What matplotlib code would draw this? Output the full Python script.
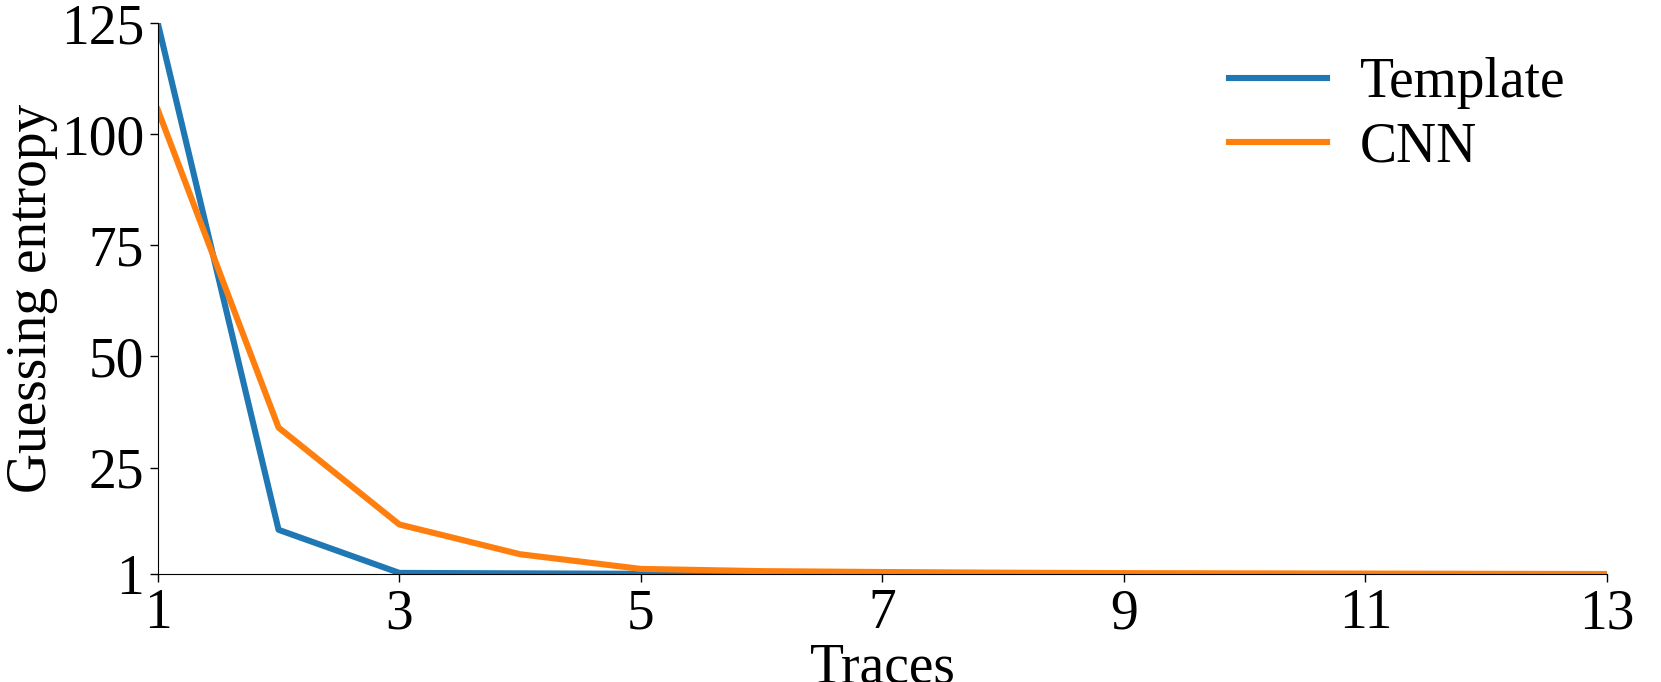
import matplotlib
matplotlib.use('Agg')
import matplotlib.pyplot as plt

traces = [1, 2, 3, 4, 5, 6, 7, 8, 9, 10, 11, 12, 13]
template_ge = [125, 11, 1.3, 1.2, 1.1, 1.05, 1.0, 1.0, 1.0, 1.0, 1.0, 1.0, 1.0]
cnn_ge = [105.5, 34, 12.2, 5.5, 2.2, 1.7, 1.5, 1.35, 1.25, 1.2, 1.15, 1.1, 1.05]
x_ticks = [1, 3, 5, 7, 9, 11, 13]
y_ticks = [1, 25, 50, 75, 100, 125]

plt.rcParams['font.family'] = ['Liberation Serif', 'DejaVu Serif']
plt.rcParams['font.size'] = 40

fig = plt.figure(figsize=(16.61, 6.82), dpi=100)
ax = fig.add_axes([0.095, 0.158, 0.8725, 0.808])

ax.plot(traces, template_ge, color='#1f77b4', lw=4.4, label='Template')
ax.plot(traces, cnn_ge, color='#ff7f0e', lw=4.4, label='CNN')

ax.set_xlim(1, 13)
ax.set_ylim(1, 125)
ax.set_xticks(x_ticks)
ax.set_yticks(y_ticks)
ax.spines['top'].set_visible(False)
ax.spines['right'].set_visible(False)
ax.tick_params(length=6, width=1, pad=4)

ax.set_xlabel('Traces', labelpad=2)
ax.set_ylabel('Guessing entropy', labelpad=2)

# legend sits in the top right without a frame
ax.legend(loc='upper right', bbox_to_anchor=(1.0, 1.014), frameon=False,
          handlelength=1.75, handletextpad=0.6, labelspacing=0.22, borderaxespad=0.35)

fig.savefig('out.png', dpi=100)
